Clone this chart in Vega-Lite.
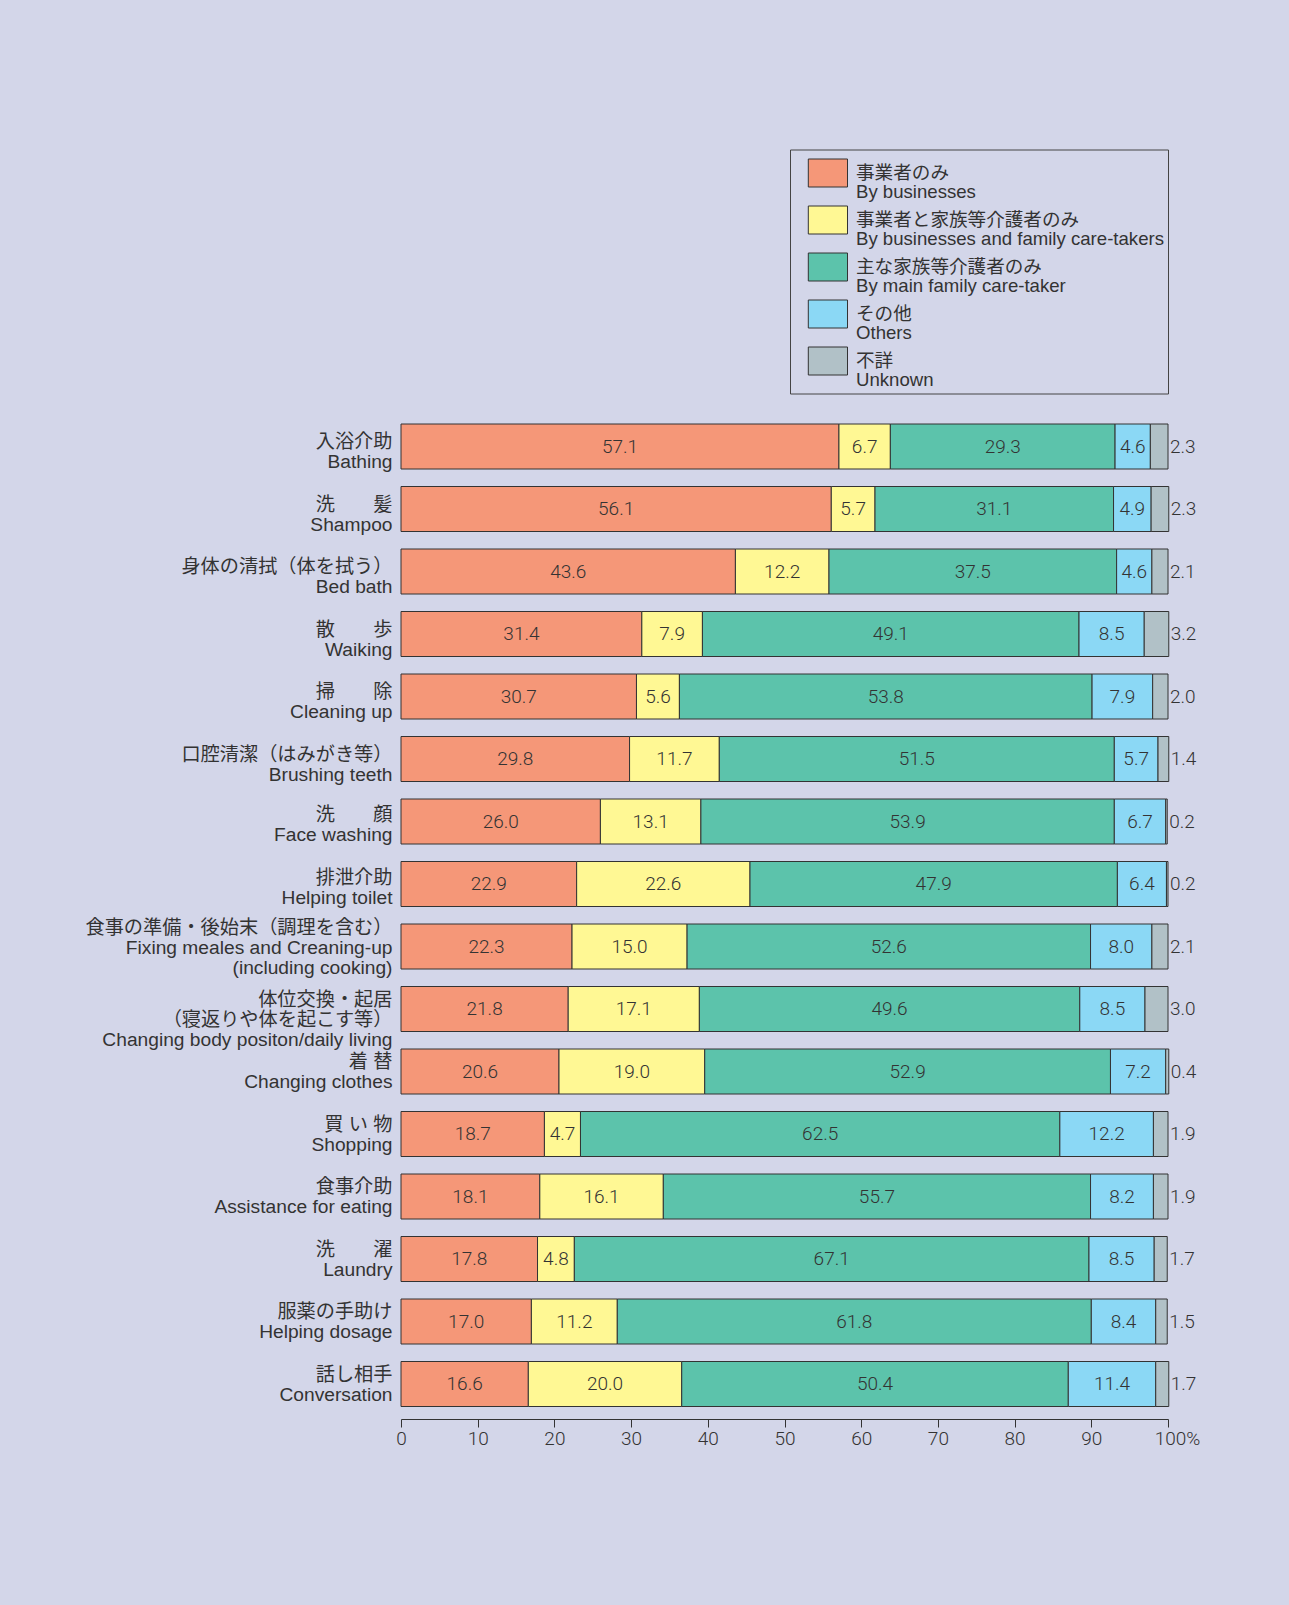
{
  "$schema": "https://vega.github.io/schema/vega-lite/v6.json",
  "autosize": {"type": "none"},
  "padding": {"left": 401, "top": 411.5, "right": 121, "bottom": 186},
  "width": 767,
  "height": 1007.5,
  "background": "#d3d6e9",
  "config": {"view": {"stroke": null}, "style": {"guide-label": {"lineHeight": 18.5}}},
  "data": {"values": [
    {"item": "入浴介助|Bathing", "cat": "A", "v": 57.1},
    {"item": "入浴介助|Bathing", "cat": "B", "v": 6.7},
    {"item": "入浴介助|Bathing", "cat": "C", "v": 29.3},
    {"item": "入浴介助|Bathing", "cat": "D", "v": 4.6},
    {"item": "入浴介助|Bathing", "cat": "E", "v": 2.3},
    {"item": "洗　　髪|Shampoo", "cat": "A", "v": 56.1},
    {"item": "洗　　髪|Shampoo", "cat": "B", "v": 5.7},
    {"item": "洗　　髪|Shampoo", "cat": "C", "v": 31.1},
    {"item": "洗　　髪|Shampoo", "cat": "D", "v": 4.9},
    {"item": "洗　　髪|Shampoo", "cat": "E", "v": 2.3},
    {"item": "身体の清拭（体を拭う）|Bed bath", "cat": "A", "v": 43.6},
    {"item": "身体の清拭（体を拭う）|Bed bath", "cat": "B", "v": 12.2},
    {"item": "身体の清拭（体を拭う）|Bed bath", "cat": "C", "v": 37.5},
    {"item": "身体の清拭（体を拭う）|Bed bath", "cat": "D", "v": 4.6},
    {"item": "身体の清拭（体を拭う）|Bed bath", "cat": "E", "v": 2.1},
    {"item": "散　　歩|Waiking", "cat": "A", "v": 31.4},
    {"item": "散　　歩|Waiking", "cat": "B", "v": 7.9},
    {"item": "散　　歩|Waiking", "cat": "C", "v": 49.1},
    {"item": "散　　歩|Waiking", "cat": "D", "v": 8.5},
    {"item": "散　　歩|Waiking", "cat": "E", "v": 3.2},
    {"item": "掃　　除|Cleaning up", "cat": "A", "v": 30.7},
    {"item": "掃　　除|Cleaning up", "cat": "B", "v": 5.6},
    {"item": "掃　　除|Cleaning up", "cat": "C", "v": 53.8},
    {"item": "掃　　除|Cleaning up", "cat": "D", "v": 7.9},
    {"item": "掃　　除|Cleaning up", "cat": "E", "v": 2.0},
    {"item": "口腔清潔（はみがき等）|Brushing teeth", "cat": "A", "v": 29.8},
    {"item": "口腔清潔（はみがき等）|Brushing teeth", "cat": "B", "v": 11.7},
    {"item": "口腔清潔（はみがき等）|Brushing teeth", "cat": "C", "v": 51.5},
    {"item": "口腔清潔（はみがき等）|Brushing teeth", "cat": "D", "v": 5.7},
    {"item": "口腔清潔（はみがき等）|Brushing teeth", "cat": "E", "v": 1.4},
    {"item": "洗　　顔|Face washing", "cat": "A", "v": 26.0},
    {"item": "洗　　顔|Face washing", "cat": "B", "v": 13.1},
    {"item": "洗　　顔|Face washing", "cat": "C", "v": 53.9},
    {"item": "洗　　顔|Face washing", "cat": "D", "v": 6.7},
    {"item": "洗　　顔|Face washing", "cat": "E", "v": 0.2},
    {"item": "排泄介助|Helping toilet", "cat": "A", "v": 22.9},
    {"item": "排泄介助|Helping toilet", "cat": "B", "v": 22.6},
    {"item": "排泄介助|Helping toilet", "cat": "C", "v": 47.9},
    {"item": "排泄介助|Helping toilet", "cat": "D", "v": 6.4},
    {"item": "排泄介助|Helping toilet", "cat": "E", "v": 0.2},
    {"item": "食事の準備・後始末（調理を含む）|Fixing meales and Creaning-up|(including cooking)", "cat": "A", "v": 22.3},
    {"item": "食事の準備・後始末（調理を含む）|Fixing meales and Creaning-up|(including cooking)", "cat": "B", "v": 15.0},
    {"item": "食事の準備・後始末（調理を含む）|Fixing meales and Creaning-up|(including cooking)", "cat": "C", "v": 52.6},
    {"item": "食事の準備・後始末（調理を含む）|Fixing meales and Creaning-up|(including cooking)", "cat": "D", "v": 8.0},
    {"item": "食事の準備・後始末（調理を含む）|Fixing meales and Creaning-up|(including cooking)", "cat": "E", "v": 2.1},
    {"item": "体位交換・起居|（寝返りや体を起こす等）|Changing body positon/daily living", "cat": "A", "v": 21.8},
    {"item": "体位交換・起居|（寝返りや体を起こす等）|Changing body positon/daily living", "cat": "B", "v": 17.1},
    {"item": "体位交換・起居|（寝返りや体を起こす等）|Changing body positon/daily living", "cat": "C", "v": 49.6},
    {"item": "体位交換・起居|（寝返りや体を起こす等）|Changing body positon/daily living", "cat": "D", "v": 8.5},
    {"item": "体位交換・起居|（寝返りや体を起こす等）|Changing body positon/daily living", "cat": "E", "v": 3.0},
    {"item": "着 替|Changing clothes", "cat": "A", "v": 20.6},
    {"item": "着 替|Changing clothes", "cat": "B", "v": 19.0},
    {"item": "着 替|Changing clothes", "cat": "C", "v": 52.9},
    {"item": "着 替|Changing clothes", "cat": "D", "v": 7.2},
    {"item": "着 替|Changing clothes", "cat": "E", "v": 0.4},
    {"item": "買 い 物|Shopping", "cat": "A", "v": 18.7},
    {"item": "買 い 物|Shopping", "cat": "B", "v": 4.7},
    {"item": "買 い 物|Shopping", "cat": "C", "v": 62.5},
    {"item": "買 い 物|Shopping", "cat": "D", "v": 12.2},
    {"item": "買 い 物|Shopping", "cat": "E", "v": 1.9},
    {"item": "食事介助|Assistance for eating", "cat": "A", "v": 18.1},
    {"item": "食事介助|Assistance for eating", "cat": "B", "v": 16.1},
    {"item": "食事介助|Assistance for eating", "cat": "C", "v": 55.7},
    {"item": "食事介助|Assistance for eating", "cat": "D", "v": 8.2},
    {"item": "食事介助|Assistance for eating", "cat": "E", "v": 1.9},
    {"item": "洗　　濯|Laundry", "cat": "A", "v": 17.8},
    {"item": "洗　　濯|Laundry", "cat": "B", "v": 4.8},
    {"item": "洗　　濯|Laundry", "cat": "C", "v": 67.1},
    {"item": "洗　　濯|Laundry", "cat": "D", "v": 8.5},
    {"item": "洗　　濯|Laundry", "cat": "E", "v": 1.7},
    {"item": "服薬の手助け|Helping dosage", "cat": "A", "v": 17.0},
    {"item": "服薬の手助け|Helping dosage", "cat": "B", "v": 11.2},
    {"item": "服薬の手助け|Helping dosage", "cat": "C", "v": 61.8},
    {"item": "服薬の手助け|Helping dosage", "cat": "D", "v": 8.4},
    {"item": "服薬の手助け|Helping dosage", "cat": "E", "v": 1.5},
    {"item": "話し相手|Conversation", "cat": "A", "v": 16.6},
    {"item": "話し相手|Conversation", "cat": "B", "v": 20.0},
    {"item": "話し相手|Conversation", "cat": "C", "v": 50.4},
    {"item": "話し相手|Conversation", "cat": "D", "v": 11.4},
    {"item": "話し相手|Conversation", "cat": "E", "v": 1.7}
  ]},
  "transform": [
    {"stack": "v", "groupby": ["item"], "sort": [{"field": "cat", "order": "ascending"}], "as": ["x0", "x1"]},
    {"calculate": "(datum.x0 + datum.x1) / 2", "as": "xm"}
  ],
  "encoding": {
    "y": {
      "field": "item", "type": "nominal", "sort": null,
      "scale": {"paddingInner": 0.28, "paddingOuter": 0.2},
      "axis": {
        "title": null, "domain": false, "ticks": false,
        "labelExpr": "split(datum.label, '|')",
        "labelFont": "Liberation Sans, Noto Sans CJK JP, sans-serif",
        "labelFontSize": 19.2, "labelLineHeight": 20, "labelColor": "#333",
        "labelPadding": 9, "labelLimit": 500,
        "labelOffset": {
          "condition": [
            {"test": "indexof(datum.value, 'Fixing') >= 0", "value": -19},
            {"test": "test(regexp('Bathing|Shampoo|Bed bath|Waiking|Cleaning|Brushing'), datum.value)", "value": -4.5},
            {"test": "test(regexp('Face washing|Helping toilet'), datum.value)", "value": -6.5}
          ],
          "value": -9.5
        }
      }
    }
  },
  "layer": [
    {
      "mark": {"type": "bar", "stroke": "#333", "strokeWidth": 1},
      "encoding": {
        "x": {
          "field": "x0", "type": "quantitative",
          "scale": {"domain": [0, 100], "nice": false},
          "axis": {
            "title": null, "grid": false,
            "values": [0, 10, 20, 30, 40, 50, 60, 70, 80, 90, 100],
            "labelExpr": "datum.value == 100 ? '100%' : datum.label",
            "labelOffset": {"condition": {"test": "datum.value == 100", "value": 9}, "value": 0},
            "domainColor": "#333", "tickColor": "#333", "tickSize": 8,
            "labelFont": "Roboto, sans-serif", "labelFontWeight": 300,
            "labelFontSize": 19, "labelColor": "#333", "labelPadding": 2,
            "labelFlush": false
          }
        },
        "x2": {"field": "x1"},
        "color": {
          "field": "cat", "type": "nominal",
          "scale": {"domain": ["A", "B", "C", "D", "E"], "range": ["#f59778", "#fff894", "#5cc3ab", "#8bd8f5", "#b1c1c7"]},
          "legend": {
            "title": " ", "titleFontSize": 2, "titlePadding": 3,
            "orient": "none", "legendX": 389, "legendY": -262,
            "direction": "vertical",
            "strokeColor": "#444", "padding": 4,
            "symbolType": "M-1.8,-1L1,-1L1,1L-1.8,1Z",
            "symbolSize": 784, "symbolStrokeColor": "#333", "symbolStrokeWidth": 1,
            "symbolOpacity": 1, "symbolOffset": 25,
            "labelOffset": 8, "rowPadding": 2,
            "labelExpr": "datum.value == 'A' ? ['事業者のみ', 'By businesses'] : datum.value == 'B' ? ['事業者と家族等介護者のみ', 'By businesses and family care-takers'] : datum.value == 'C' ? ['主な家族等介護者のみ', 'By main family care-taker'] : datum.value == 'D' ? ['その他', 'Others'] : ['不詳', 'Unknown']",
            "labelFont": "Liberation Sans, Noto Sans CJK JP, sans-serif",
            "labelFontSize": 18.6, "labelColor": "#333", "labelLimit": 500
          }
        }
      }
    },
    {
      "transform": [{"filter": "datum.cat != 'E'"}],
      "mark": {"type": "text", "align": "center", "baseline": "middle", "font": "Roboto, sans-serif", "fontWeight": 300, "fontSize": 19, "color": "#333"},
      "encoding": {
        "x": {"field": "xm", "type": "quantitative"},
        "text": {"field": "v", "type": "quantitative", "format": ".1f"}
      }
    },
    {
      "transform": [{"filter": "datum.cat == 'E'"}],
      "mark": {"type": "text", "align": "left", "baseline": "middle", "dx": 2, "font": "Roboto, sans-serif", "fontWeight": 300, "fontSize": 19, "color": "#333"},
      "encoding": {
        "x": {"field": "x1", "type": "quantitative"},
        "text": {"field": "v", "type": "quantitative", "format": ".1f"}
      }
    }
  ]
}
